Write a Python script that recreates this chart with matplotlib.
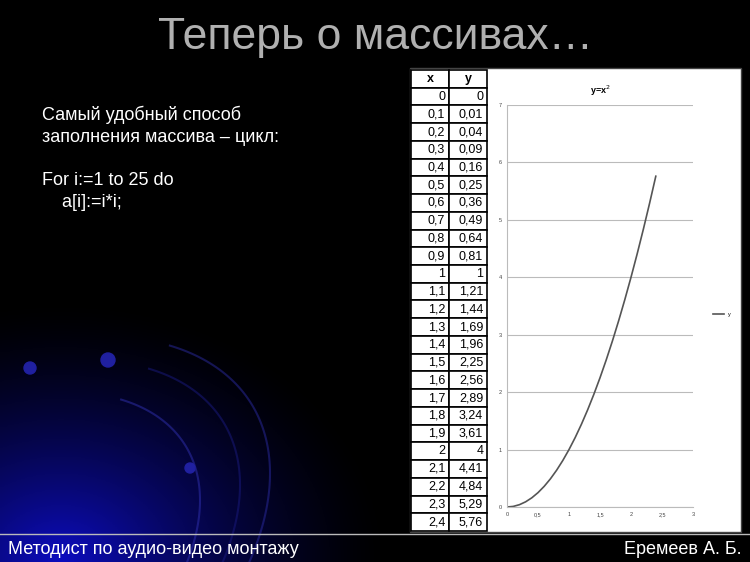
import numpy as np
import matplotlib
matplotlib.use("Agg")
import matplotlib.pyplot as plt

plt.rcParams['font.family'] = ['Liberation Sans', 'DejaVu Sans']

x_vals = [0, 0.1, 0.2, 0.3, 0.4, 0.5, 0.6, 0.7, 0.8, 0.9, 1, 1.1, 1.2, 1.3, 1.4, 1.5, 1.6, 1.7, 1.8, 1.9, 2, 2.1, 2.2, 2.3, 2.4]
y_vals = [0, 0.01, 0.04, 0.09, 0.16, 0.25, 0.36, 0.49, 0.64, 0.81, 1, 1.21, 1.44, 1.69, 1.96, 2.25, 2.56, 2.89, 3.24, 3.61, 4, 4.41, 4.84, 5.29, 5.76]
x_labels = ["0", "0,1", "0,2", "0,3", "0,4", "0,5", "0,6", "0,7", "0,8", "0,9", "1", "1,1", "1,2", "1,3", "1,4", "1,5", "1,6", "1,7", "1,8", "1,9", "2", "2,1", "2,2", "2,3", "2,4"]
y_labels = ["0", "0,01", "0,04", "0,09", "0,16", "0,25", "0,36", "0,49", "0,64", "0,81", "1", "1,21", "1,44", "1,69", "1,96", "2,25", "2,56", "2,89", "3,24", "3,61", "4", "4,41", "4,84", "5,29", "5,76"]
xticks = [0, 0.5, 1, 1.5, 2, 2.5, 3]
xtick_labels = ["0", "0,5", "1", "1,5", "2", "2,5", "3"]

W, H = 750, 562
fig = plt.figure(figsize=(7.5, 5.62), dpi=100, facecolor="black")

bg = fig.add_axes([0, 0, 1, 1])
bg.set_xlim(0, W); bg.set_ylim(H, 0); bg.axis("off")
gx, gy = np.meshgrid(np.linspace(0, W, 300), np.linspace(0, H, 225))
d = np.hypot((gx - 60) / 330, (gy - 560) / 260)
glow = np.clip(1 - d, 0, 1) ** 1.5
img = np.zeros(gx.shape + (3,))
img[..., 2] = 0.75 * glow
img[..., 0] = 0.05 * glow
img[..., 1] = 0.05 * glow
bg.imshow(img, extent=[0, W, H, 0], aspect="auto", zorder=0)
for r, c in [(330, "#2a2aa0"), (300, "#1a1a80"), (260, "#3030b0")]:
    t = np.linspace(-0.2, 1.2, 100)
    bg.plot(-60 + r * np.cos(t - 0.4), 600 - r * np.sin(t + 0.1) * 0.8, color=c, lw=1.5, alpha=0.5, zorder=1)
for cx, cy, rr in [(30, 368, 6), (108, 360, 7), (190, 468, 5)]:
    bg.add_patch(plt.Circle((cx, cy), rr, color="#2020a0", zorder=1))
bg.plot([0, W], [534, 534], color="#bbbbbb", lw=1)

fig.text(0.5, 1 - 38 / H, "Теперь о массивах…", color="#b0b0b0", fontsize=32, ha="center", va="center")
fig.text(42 / W, 1 - 106 / H, "Самый удобный способ\nзаполнения массива – цикл:\n\nFor i:=1 to 25 do\n    a[i]:=i*i;",
         color="white", fontsize=13, ha="left", va="top", linespacing=1.35)
fig.text(8 / W, 1 - 549 / H, "Методист по аудио-видео монтажу", color="white", fontsize=13, ha="left", va="center")
fig.text(742 / W, 1 - 549 / H, "Еремеев А. Б.", color="white", fontsize=13, ha="right", va="center")

bg.add_patch(plt.Rectangle((410, 68), 331, 464, facecolor="white", edgecolor="#444444", lw=1, zorder=2))

tax = fig.add_axes([411 / W, 1 - 531 / H, 76 / W, 461 / H])
tax.axis("off")
cells = [[a, b] for a, b in zip(x_labels, y_labels)]
tbl = tax.table(cellText=cells, colLabels=["x", "y"], cellLoc="right", bbox=[0, 0, 1, 1])
tbl.auto_set_font_size(False)
for (r, c), cell in tbl.get_celld().items():
    cell.set_linewidth(1.2)
    cell.get_text().set_fontsize(9)
    if r == 0:
        cell.get_text().set_ha("center")
        cell.get_text().set_fontweight("bold")
        cell._loc = "center"

ax = fig.add_axes([507 / W, 1 - 507 / H, 186 / W, 402 / H])
ax.plot(x_vals, y_vals, color="#555555", lw=1.2, label="y")
ax.set_xlim(0, 3); ax.set_ylim(0, 7)
ax.set_xticks(xticks); ax.set_xticklabels(xtick_labels)
ax.set_yticks(range(8))
ax.tick_params(labelsize=4, length=0, colors="#444444")
ax.grid(axis="y", color="#bbbbbb", lw=0.8)
for s in ["top", "right"]:
    ax.spines[s].set_visible(False)
ax.spines["left"].set_color("#bbbbbb"); ax.spines["bottom"].set_color("#bbbbbb")
ax.set_title("y=x$^2$", fontsize=6.5, fontweight="bold", pad=8)
ax.legend(loc="center left", bbox_to_anchor=(1.08, 0.48), frameon=False, fontsize=4, handlelength=2)

fig.savefig("out.png", dpi=100, facecolor="black")
